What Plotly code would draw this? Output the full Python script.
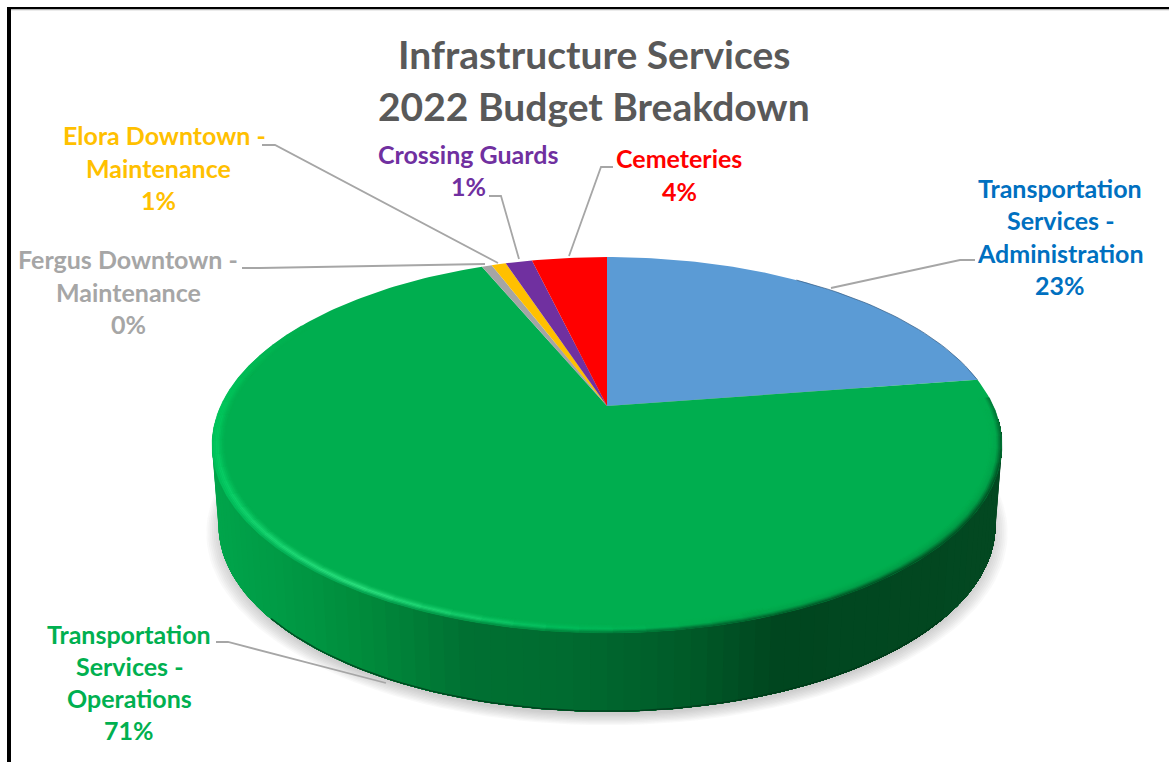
import numpy as np
import plotly.graph_objects as go

# ---- data (clockwise from 12 o'clock) ----
categories = ["Transportation Services - Administration",
              "Transportation Services - Operations",
              "Fergus Downtown - Maintenance",
              "Elora Downtown - Maintenance",
              "Crossing Guards",
              "Cemeteries"]
values = [22.6, 71.1, 0.5, 0.72, 1.33, 3.75]
label_lines = [["Transportation", "Services -", "Administration"],
               ["Transportation", "Services -", "Operations"],
               ["Fergus Downtown -", "Maintenance"],
               ["Elora Downtown -", "Maintenance"],
               ["Crossing Guards"],
               ["Cemeteries"]]
title_lines = ["Infrastructure Services", "2022 Budget Breakdown"]

# ---- styles ----
slice_colors = ["#5B9BD5", "#00AE4F", "#A5A5A5", "#FFC000", "#7030A0", "#FF0000"]
text_colors = ["#0070C0", "#00B050", "#A6A6A6", "#FFC000", "#7030A0", "#FF0000"]
FONT = "Lato"
LABEL_SIZE = 25
TITLE_SIZE = 39

# ---- layout geometry (pixels of the picture) ----
label_x = [1060, 129, 128, 158, 468, 679]
label_y = [[188, 220, 253, 285], [634, 666, 698, 730], [259, 292, 324],
           [135, 168, 200], [154, 186], [158, 191]]
title_y = [54, 106]
leaders = [[(975, 260), (960, 260), (831, 288)],
           [(216, 642), (228, 642), (386, 683)],
           [(242, 268), (260, 268), (485, 264)],
           [(262, 145), (275, 145), (498, 263)],
           [(489, 196), (501, 196), (519, 259)],
           [(613, 167), (601, 167), (569, 256)]]
CX, CY, A, B, K = 607.0, 406.0, 386.4, 179.9, 0.2076
CY_BOT, A_BOT, B_BOT = 487.0, 380.0, 178.0


def top(theta, r=1.0):
    th = np.radians(theta)
    u, v = r * np.sin(th), r * np.cos(th)
    w = 1 + K * v
    return CX + A * u / w, CY - B * v / w


def bottom(theta, r=1.0, dy=0.0):
    th = np.radians(theta)
    u, v = r * np.sin(th), r * np.cos(th)
    w = 1 + K * v
    return CX + A_BOT * u / w, CY_BOT + dy - B_BOT * v / w


def rgb(c):
    return "rgb(%d,%d,%d)" % tuple(int(round(x)) for x in c)


def lerp(stops, x):
    xs = [s[0] for s in stops]
    return [np.interp(x, xs, [s[1][i] for s in stops]) for i in range(3)]


def poly(fig, xs, ys, color, lw=0.6):
    fig.add_trace(go.Scatter(x=list(xs), y=list(ys), mode="lines", fill="toself",
                             fillcolor=color, line=dict(color=color, width=lw),
                             hoverinfo="skip", showlegend=False))


def line(fig, xs, ys, color, width):
    fig.add_trace(go.Scatter(x=list(xs), y=list(ys), mode="lines",
                             line=dict(color=color, width=width),
                             hoverinfo="skip", showlegend=False))


fig = go.Figure()

# soft shadow
full = np.linspace(0, 360, 181)
for i in range(9):
    r = 1.03 - i * 0.0045
    x, y = bottom(full, r=r, dy=5)
    poly(fig, x, y, "rgba(120,120,120,0.045)", lw=0)

# side wall, shaded by horizontal position; painted left to right, each layer
# covering everything to its right so no seams appear between strips
side_stops = [(212, (0, 165, 75)), (300, (0, 150, 66)), (350, (0, 140, 60)),
              (460, (0, 112, 50)), (550, (0, 108, 48)), (683, (0, 90, 40)),
              (767, (0, 70, 31)), (1003, (3, 72, 33))]
thetas = np.arange(266, 92, -2.0)
for a in thetas[:-1]:
    arc = np.arange(a, 92, -2.0)
    xt, yt = top(arc)
    xb, yb = bottom(arc)
    col = rgb(lerp(side_stops, xt[0]))
    poly(fig, [*xt, *xb[::-1], xt[0]], [*yt, *yb[::-1], yt[0]], col, lw=0)
xb, yb = bottom(np.arange(130, 232, 2.0), dy=-0.5)
line(fig, xb, yb, "rgba(0,55,25,0.75)", 1.5)

# top face slices, angles from the values
shares = np.array(values) / sum(values)
edges = np.concatenate([[0], np.cumsum(shares) * 360])
for start, end, color in zip(edges[:-1], edges[1:], slice_colors):
    th = np.linspace(start, end, max(3, int(end - start) + 2))
    x, y = top(th)
    poly(fig, [CX, *x, CX], [CY, *y, CY], color, lw=0)

# bevelled rim on the big slice
base = np.array((0, 174, 79), float)
outer_stops = [(88, (0, 120, 55)), (110, (0, 75, 33)), (140, (0, 70, 30)), (170, (0, 95, 45)),
               (190, (0, 135, 62)), (215, (0, 160, 78)), (240, (0, 185, 88)),
               (270, (0, 198, 92)), (300, tuple(base))]
mid_stops = [(88, tuple(base)), (130, (0, 150, 68)), (165, (0, 165, 75)), (185, (0, 190, 92)),
             (212, (50, 230, 132)), (245, (10, 208, 104)), (270, (0, 196, 90)), (300, tuple(base))]
N_BANDS = 8
band_r = np.linspace(0.968, 1.0, N_BANDS + 1)
ops_end = edges[2]
steps = np.arange(edges[1] + 6, min(ops_end, 300) + 0.1, 4.0)
for a, b in zip(steps[:-1], steps[1:]):
    m = (a + b) / 2
    out, mid = np.array(lerp(outer_stops, m)), np.array(lerp(mid_stops, m))
    for j in range(N_BANDS):
        t = (j + 0.5) / N_BANDS
        if t < 0.6:
            c = base + (mid - base) * (t / 0.6) ** 1.5
        else:
            c = mid + (out - mid) * ((t - 0.6) / 0.4)
        r0, r1 = band_r[j], band_r[j + 1]
        x0, y0 = top(a, r0)
        x1, y1 = top(b, r0)
        x2, y2 = top(b, r1)
        x3, y3 = top(a, r1)
        poly(fig, [x0, x1, x2, x3, x0], [y0, y1, y2, y3, y0], rgb(c), lw=0.4)

# thin darker edge on the blue slice
x, y = top(np.linspace(35, edges[1], 30))
line(fig, x, y, "rgba(50,90,130,0.7)", 1)

# leader lines
for pts in leaders:
    line(fig, [p[0] for p in pts], [p[1] for p in pts], "#A6A6A6", 1.8)

# labels
ann = []
for lines, xc, ys, val, col in zip(label_lines, label_x, label_y, shares, text_colors):
    texts = lines + [f"{round(val * 100)}%"]
    for i, (t, yy) in enumerate(zip(texts, ys)):
        # the first line of the Elora label sits a little right of the rest
        xx = xc + 6 if lines[0].startswith("Elora") and i == 0 else xc
        ann.append(dict(x=xx, y=yy, text=t, showarrow=False, xanchor="center", yanchor="middle",
                        font=dict(family=FONT, size=LABEL_SIZE, color=col, weight="bold")))
for t, yy in zip(title_lines, title_y):
    ann.append(dict(x=594, y=yy, text=t, showarrow=False, xanchor="center", yanchor="middle",
                    font=dict(family=FONT, size=TITLE_SIZE, color="#595959", weight="bold")))

shapes = [dict(type="rect", x0=7, x1=1169, y0=7, y1=9.3, fillcolor="#000", line_width=0, layer="above"),
          dict(type="rect", x0=11, x1=1169, y0=9.3, y1=10.2, fillcolor="#B0B0B0", line_width=0, layer="above"),
          dict(type="rect", x0=7, x1=11, y0=7, y1=762, fillcolor="#000", line_width=0, layer="above")]

fig.update_layout(width=1169, height=762, margin=dict(l=0, r=0, t=0, b=0),
                  paper_bgcolor="white", plot_bgcolor="white", showlegend=False,
                  xaxis=dict(range=[0, 1169], visible=False, fixedrange=True),
                  yaxis=dict(range=[762, 0], visible=False, fixedrange=True),
                  annotations=ann, shapes=shapes)
fig.write_html("out.html", config={"displayModeBar": False},
               post_script="document.body.style.margin='0';document.body.style.overflow='hidden';")
